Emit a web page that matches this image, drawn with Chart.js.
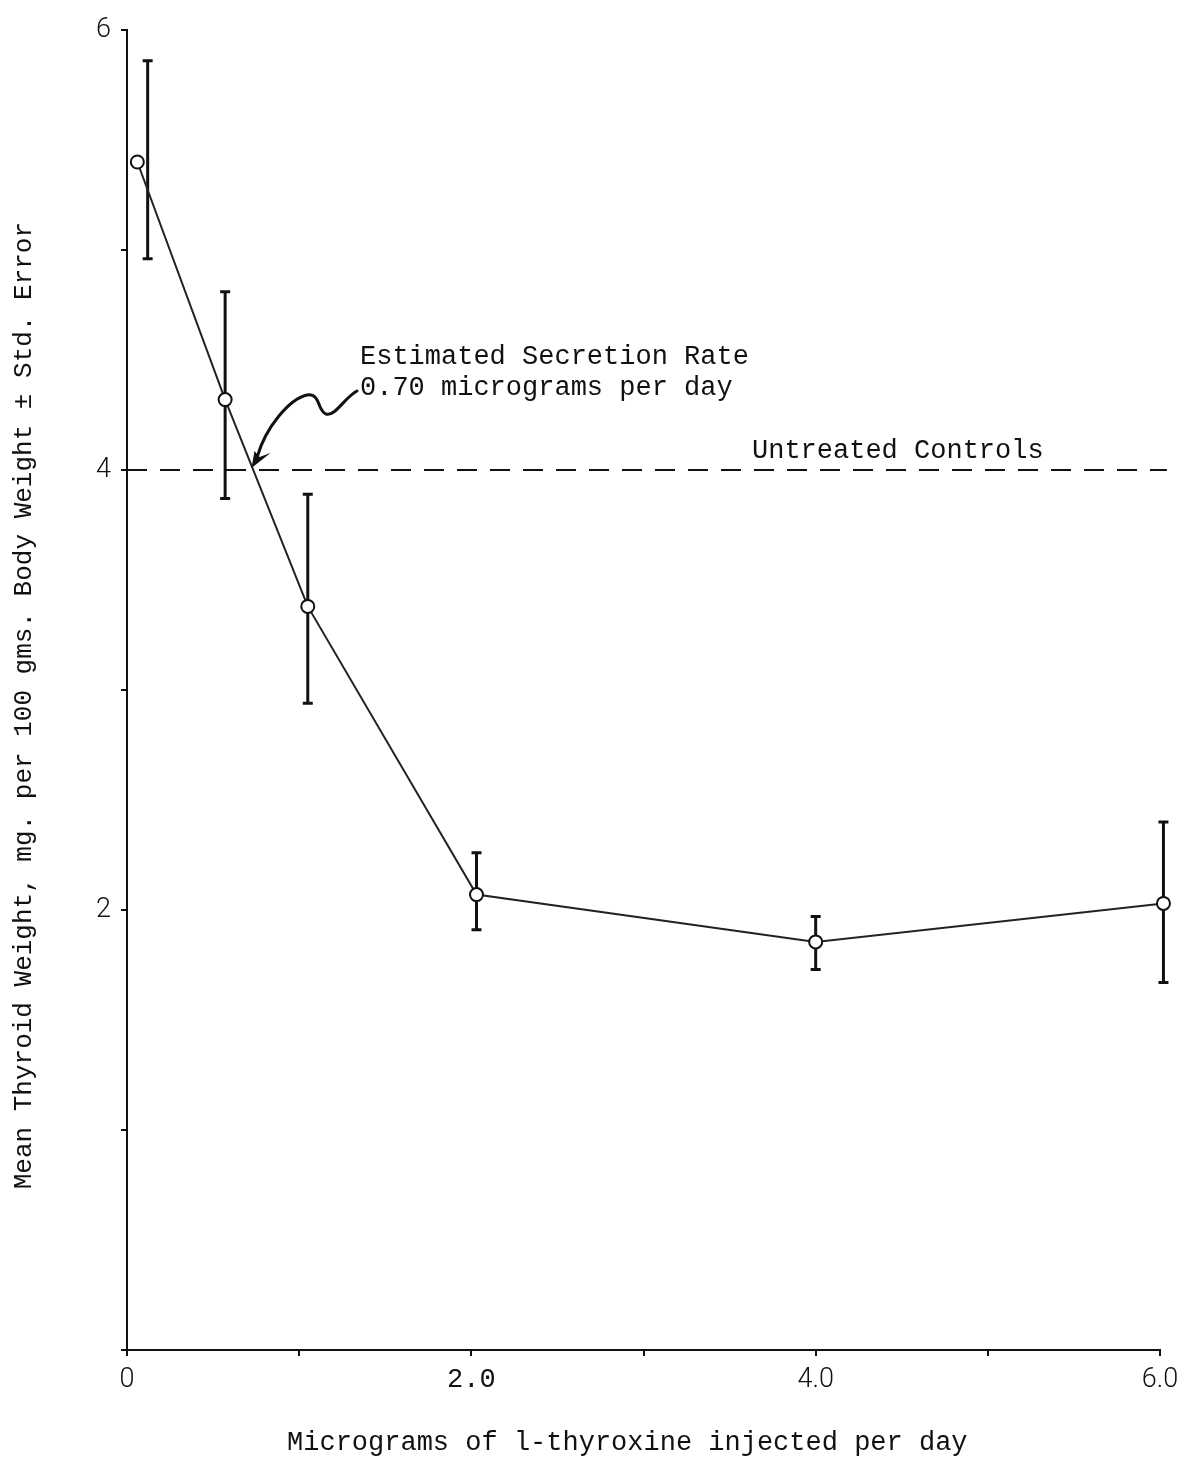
<!DOCTYPE html>
<html>
<head>
<meta charset="utf-8">
<script src="https://cdn.jsdelivr.net/npm/chart.js@4/dist/chart.umd.min.js"></script>
<style>
  html, body { margin: 0; padding: 0; background: #fff; }
  #wrap { width: 1191px; height: 1460px; }
</style>
</head>
<body>
<div id="wrap"><canvas id="c" width="1191" height="1460"></canvas></div>
<script>
// Dose groups (micrograms l-thyroxine per day) and mean thyroid weight
const doses      = [0.06, 0.57, 1.05, 2.03, 4.0, 6.02];
const meanWeight = [5.40, 4.32, 3.38, 2.07, 1.855, 2.03];
// Standard-error limits and the dose at which each bar is drawn
const errUpper   = [5.86, 4.81, 3.89, 2.26, 1.97, 2.40];
const errLower   = [4.96, 3.87, 2.94, 1.91, 1.73, 1.67];
const errX       = [0.12, 0.57, 1.05, 2.03, 4.0, 6.02];
// Untreated control level and estimated secretion rate
const controlLevel  = 4.0;
const secretionRate = 0.70;
// Axis ticks
const xTickValues = [0, 1, 2, 3, 4, 5, 6];
const xTickLabels = ['0', '', '2.0', '', '4.0', '', '6.0'];
const yTickValues = [0, 1, 2, 3, 4, 5, 6];
const yTickLabels = ['', '', '2', '', '4', '', '6'];

const TYPE = '"Liberation Mono", "Courier New", monospace';
const HAND = 'Roboto, "DejaVu Sans", sans-serif';
const INK = '#111';

const points = doses.map((d, i) => ({ x: d, y: meanWeight[i] }));
const controlLine = [{ x: 0, y: controlLevel }, { x: 6.04, y: controlLevel }];

const errorBars = {
  id: 'errorBars',
  beforeDatasetsDraw(chart) {
    const { ctx, scales: { x, y } } = chart;
    ctx.save();
    ctx.strokeStyle = INK;
    ctx.lineCap = 'butt';
    ctx.lineWidth = 3;
    errX.forEach((ex, i) => {
      const px = x.getPixelForValue(ex);
      const top = y.getPixelForValue(errUpper[i]);
      const bot = y.getPixelForValue(errLower[i]);
      ctx.beginPath();
      ctx.moveTo(px, top); ctx.lineTo(px, bot);
      ctx.moveTo(px - 5, top); ctx.lineTo(px + 5, top);
      ctx.moveTo(px - 5, bot); ctx.lineTo(px + 5, bot);
      ctx.stroke();
    });
    ctx.restore();
  }
};

const notes = {
  id: 'notes',
  afterDatasetsDraw(chart) {
    const { ctx, scales: { x, y } } = chart;
    const yc = y.getPixelForValue(controlLevel);
    ctx.save();
    ctx.fillStyle = INK;
    ctx.font = '27px ' + TYPE;
    ctx.textBaseline = 'alphabetic';
    ctx.textAlign = 'left';

    // Secretion-rate note
    const tx = 360, ty1 = 364, ty2 = 395;
    ctx.fillText('Estimated Secretion Rate', tx, ty1);
    ctx.fillText('0.70 micrograms per day', tx, ty2);

    // Control label above the dashed line
    ctx.fillText('Untreated Controls', 752, yc - 12);

    // Wavy arrow from the note to the secretion rate on the control line
    const T = { x: x.getPixelForValue(secretionRate) + 4, y: yc - 2 };
    const S = { x: tx - 3, y: ty2 - 4 };
    ctx.strokeStyle = INK;
    ctx.lineWidth = 3;
    ctx.lineCap = 'round';
    ctx.beginPath();
    ctx.moveTo(S.x, S.y);
    ctx.bezierCurveTo(S.x - 12, S.y + 6, S.x - 22, S.y + 26, S.x - 31, S.y + 23);
    ctx.bezierCurveTo(S.x - 40, S.y + 20, S.x - 36, S.y + 2, S.x - 50, S.y + 4);
    ctx.bezierCurveTo(S.x - 68, S.y + 8, T.x + 14, T.y - 40, T.x + 6, T.y - 12);
    ctx.stroke();
    ctx.beginPath();
    ctx.moveTo(T.x, T.y);
    ctx.lineTo(T.x + 3, T.y - 17);
    ctx.lineTo(T.x + 8, T.y - 11);
    ctx.lineTo(T.x + 19, T.y - 15);
    ctx.closePath();
    ctx.fill();
    ctx.restore();
  }
};

new Chart(document.getElementById('c'), {
  type: 'scatter',
  data: {
    datasets: [
      {
        data: controlLine,
        showLine: true,
        borderColor: INK,
        borderWidth: 2,
        borderDash: [20, 13],
        pointRadius: 0,
        clip: false
      },
      {
        data: points,
        showLine: true,
        borderColor: '#222',
        borderWidth: 2,
        pointRadius: 6.5,
        pointBorderWidth: 2,
        pointBackgroundColor: '#fff',
        pointBorderColor: INK,
        clip: false
      }
    ]
  },
  options: {
    responsive: false,
    devicePixelRatio: 1,
    animation: false,
    layout: { padding: { left: 0, right: 31, top: 30, bottom: 0 } },
    plugins: { legend: { display: false }, tooltip: { enabled: false } },
    scales: {
      x: {
        type: 'linear',
        min: 0, max: 6,
        afterBuildTicks: (s) => { s.ticks = xTickValues.map(v => ({ value: v })); },
        afterFit: (s) => { s.height = 110; },
        ticks: {
          autoSkip: false, maxRotation: 0, padding: 8, color: INK,
          font: (c) => (c.tick && c.tick.value === 2)
            ? { family: TYPE, size: 27 }
            : { family: HAND, size: 27, weight: '300' },
          callback: (v) => xTickLabels[xTickValues.indexOf(v)]
        },
        grid: { drawOnChartArea: false, drawTicks: true, tickLength: 6, tickColor: INK, lineWidth: 2 },
        border: { color: INK, width: 2 },
        title: {
          display: true,
          text: 'Micrograms of l-thyroxine injected per day  ',
          color: INK,
          font: { family: TYPE, size: 27 },
          padding: { top: 0, bottom: 1 }
        }
      },
      y: {
        type: 'linear',
        min: 0, max: 6,
        afterBuildTicks: (s) => { s.ticks = yTickValues.map(v => ({ value: v })); },
        afterFit: (s) => { s.width = 127; },
        ticks: {
          autoSkip: false, padding: 10, color: INK,
          font: { family: HAND, size: 27, weight: '300' },
          callback: (v) => yTickLabels[yTickValues.indexOf(v)]
        },
        grid: { drawOnChartArea: false, drawTicks: true, tickLength: 6, tickColor: INK, lineWidth: 2 },
        border: { color: INK, width: 2 },
        title: {
          display: true,
          text: 'Mean Thyroid Weight, mg. per 100 gms. Body Weight \u00b1 Std. Error  ',
          color: INK,
          font: { family: TYPE, size: 26 },
          padding: { top: 9, bottom: 0 }
        }
      }
    }
  },
  plugins: [errorBars, notes]
});
</script>
</body>
</html>
